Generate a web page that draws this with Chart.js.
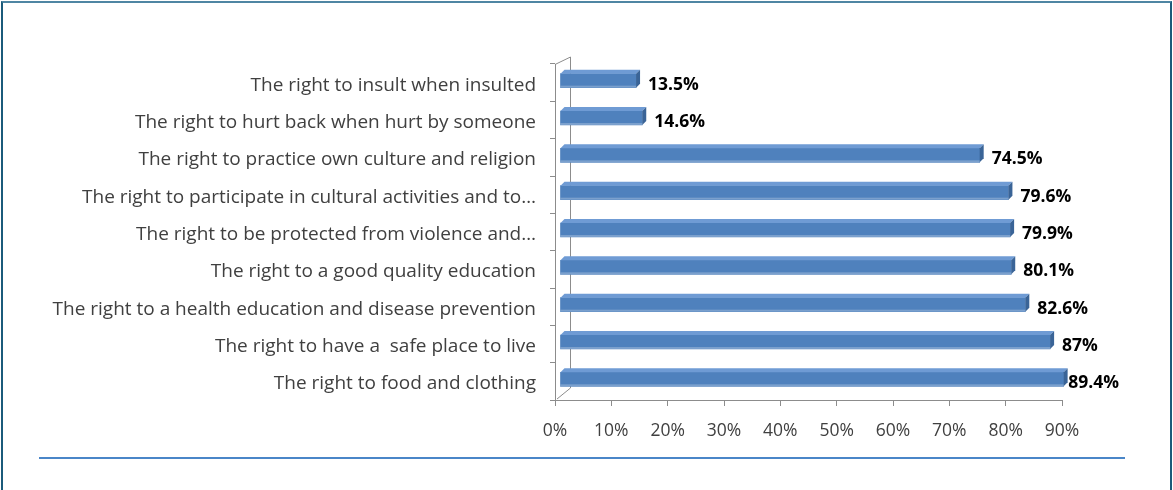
<!DOCTYPE html>
<html>
<head>
<meta charset="utf-8">
<script src="https://cdn.jsdelivr.net/npm/chart.js@4"></script>
<style>
  html, body { margin: 0; padding: 0; background: #fff; overflow: hidden; }
  #wrap { position: relative; width: 1173px; height: 490px; }
  #frame {
    position: absolute; left: 1px; top: 1px; width: 1167px; height: 520px;
    border-left: 2px solid #1b5b7b; border-right: 2px solid #1b5b7b;
    border-top: 2px solid #4f86a3; pointer-events: none;
  }
  #rule {
    position: absolute; left: 39px; top: 457px; width: 1086px; height: 2px;
    background: #4a86c8; pointer-events: none;
  }
</style>
</head>
<body>
<div id="wrap">
  <canvas id="rightsChart" width="1173" height="490"></canvas>
  <div id="frame"></div>
  <div id="rule"></div>
</div>
<script>
const categories = [
  'The right to insult when insulted',
  'The right to hurt back when hurt by someone',
  'The right to practice own culture and religion',
  'The right to participate in cultural activities and to\u2026',
  'The right to be protected from violence and\u2026',
  'The right to a good quality education',
  'The right to a health education and disease prevention',
  'The right to have a  safe place to live',
  'The right to food and clothing'
];
const percentages = [13.5, 14.6, 74.5, 79.6, 79.9, 80.1, 82.6, 87, 89.4];
const valueLabels = ['13.5%', '14.6%', '74.5%', '79.6%', '79.9%', '80.1%', '82.6%', '87%', '89.4%'];
const axisTicks = [0, 10, 20, 30, 40, 50, 60, 70, 80, 90];

const FONT = '"Open Sans", Lato, sans-serif';
const SHIFT_X = 5, SHIFT_Y = -2, DEPTH = 4;

// fake 3D: back wall edge, bar tops and sides, and the value labels
const bars3d = {
  id: 'bars3d',
  beforeDatasetsDraw(chart) {
    const { ctx, chartArea: a } = chart;
    ctx.save();
    ctx.strokeStyle = '#8c8c8c';
    ctx.lineWidth = 1;
    ctx.beginPath();
    ctx.moveTo(a.left, a.top + 0.5);
    ctx.lineTo(a.left + 15.5, a.top - 7);
    ctx.lineTo(a.left + 15.5, a.bottom - 12);
    ctx.lineTo(a.left + 2, a.bottom - 1);
    ctx.stroke();
    ctx.restore();
    ctx.save();
    ctx.translate(SHIFT_X, SHIFT_Y);
  },
  afterDatasetsDraw(chart) {
    const { ctx } = chart;
    const meta = chart.getDatasetMeta(0);
    meta.data.forEach((bar) => {
      const x0 = bar.base, x1 = bar.x;
      const yt = bar.y - bar.height / 2, yb = bar.y + bar.height / 2;
      // top face
      ctx.fillStyle = '#6f9bd4';
      ctx.beginPath();
      ctx.moveTo(x0, yt);
      ctx.lineTo(x0 + DEPTH, yt - DEPTH);
      ctx.lineTo(x1 + DEPTH, yt - DEPTH);
      ctx.lineTo(x1, yt);
      ctx.closePath();
      ctx.fill();
      // right face
      ctx.fillStyle = '#3a6497';
      ctx.beginPath();
      ctx.moveTo(x1, yt);
      ctx.lineTo(x1 + DEPTH, yt - DEPTH);
      ctx.lineTo(x1 + DEPTH, yb - DEPTH);
      ctx.lineTo(x1, yb);
      ctx.closePath();
      ctx.fill();
      // light edge at the bottom of the front face
      ctx.fillStyle = 'rgba(255,255,255,0.25)';
      ctx.fillRect(x0, yb - 2, x1 - x0, 2);
    });
    ctx.restore();

    ctx.save();
    ctx.font = 'bold 17.5px ' + FONT;
    ctx.fillStyle = '#000';
    ctx.textBaseline = 'middle';
    const limit = chart.width - 54;
    meta.data.forEach((bar, i) => {
      const text = valueLabels[i];
      const w = ctx.measureText(text).width;
      const x = Math.min(bar.x + 17, limit - w);
      ctx.fillText(text, x, bar.y + 2);
    });
    ctx.restore();
  }
};

new Chart(document.getElementById('rightsChart'), {
  type: 'bar',
  data: {
    labels: categories,
    datasets: [{
      data: percentages,
      backgroundColor: '#4f81bd',
      borderWidth: 0,
      barThickness: 14
    }]
  },
  options: {
    indexAxis: 'y',
    responsive: false,
    animation: false,
    layout: { padding: { top: 64, right: 111, bottom: 0, left: 0 } },
    plugins: { legend: { display: false }, tooltip: { enabled: false } },
    scales: {
      x: {
        min: 0,
        max: 90,
        afterBuildTicks: (scale) => { scale.ticks = axisTicks.map(v => ({ value: v })); },
        afterFit: (scale) => { scale.height = 90; },
        border: { color: '#8c8c8c', width: 1 },
        grid: { drawOnChartArea: false, tickLength: 6, color: '#8c8c8c' },
        ticks: {
          callback: (v) => v + '%',
          color: '#404040',
          font: { family: FONT, size: 17.5 },
          padding: 15,
          maxRotation: 0
        }
      },
      y: {
        afterFit: (scale) => { scale.width = 555; },
        border: { color: '#8c8c8c', width: 1 },
        grid: { drawOnChartArea: false, tickLength: 5, color: '#8c8c8c', offset: true },
        ticks: {
          color: '#404040',
          font: { family: FONT, size: 19 },
          padding: 14,
          labelOffset: 2.5,
          autoSkip: false
        }
      }
    }
  },
  plugins: [bars3d]
});
</script>
</body>
</html>
